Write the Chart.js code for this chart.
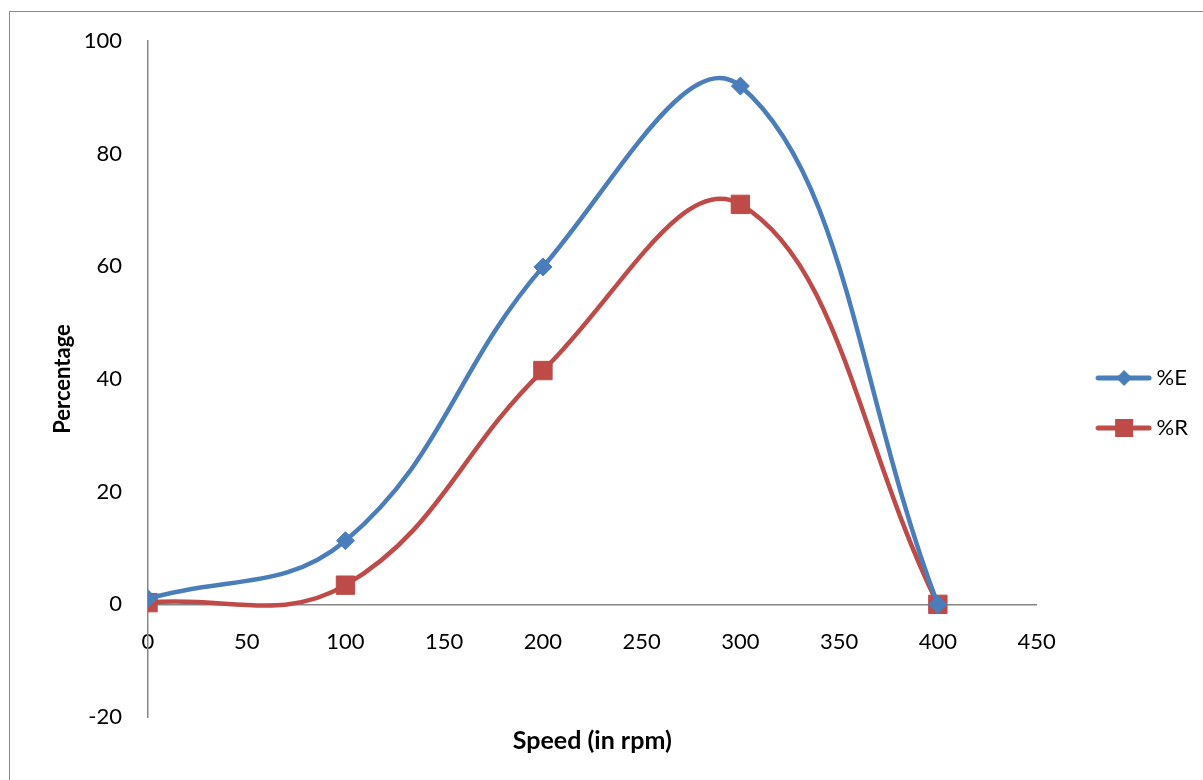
<!DOCTYPE html>
<html>
<head>
<meta charset="utf-8">
<script src="https://cdn.jsdelivr.net/npm/chart.js@4"></script>
<style>
  html, body { margin: 0; padding: 0; background: #fff; }
  #wrap { position: relative; width: 1203px; height: 780px; }
  #frame { position: absolute; left: 9px; top: 11px; width: 1220px; height: 800px; border: 1px solid #8a8a8a; box-sizing: border-box; }
  #chartContainer { position: absolute; left: 0; top: 0; }
</style>
</head>
<body>
<div id="wrap">
  <div id="frame"></div>
  <canvas id="chartContainer" width="1203" height="780"></canvas>
</div>
<script>
// data
const speeds = [0, 100, 200, 300, 400];
const percentE = [1, 11.3, 59.9, 92, 0];
const percentR = [0.3, 3.4, 41.5, 71, 0];
const xTicks = [0, 50, 100, 150, 200, 250, 300, 350, 400, 450];
const yTicks = [-20, 0, 20, 40, 60, 80, 100];

const blue = '#4A7EBB';
const red = '#BE4B48';
const axisGray = '#868686';
const fontName = 'Lato, "Open Sans", sans-serif';

// legend icon: a line with the marker in the middle
function legendIcon(color, shape) {
  const c = document.createElement('canvas');
  c.width = 98;
  c.height = 22;
  const g = c.getContext('2d');
  g.strokeStyle = color;
  g.lineWidth = 5;
  g.lineCap = 'round';
  g.beginPath();
  g.moveTo(42, 11);
  g.lineTo(93, 11);
  g.stroke();
  g.fillStyle = color;
  const cx = 68;
  if (shape === 'diamond') {
    g.beginPath();
    g.moveTo(cx, 3); g.lineTo(cx + 8, 11); g.lineTo(cx, 19); g.lineTo(cx - 8, 11);
    g.closePath();
    g.fill();
  } else {
    g.fillRect(cx - 9, 2, 18, 18);
  }
  return c;
}

function toPoints(xs, ys) {
  return xs.map((x, i) => ({ x: x, y: ys[i] }));
}

// x axis title, centred on the plot area like Excel
const xTitlePlugin = {
  id: 'xTitle',
  afterDraw(chart) {
    const ctx = chart.ctx;
    const area = chart.chartArea;
    ctx.save();
    ctx.font = 'bold 25px ' + fontName;
    ctx.fillStyle = '#000';
    ctx.textAlign = 'center';
    ctx.textBaseline = 'middle';
    ctx.fillText('Speed (in rpm)', (area.left + area.right) / 2, 741);
    ctx.restore();
  }
};

let chartContainer = document.getElementById('chartContainer').getContext('2d');
let chart = new Chart(chartContainer, {
  type: 'line',
  data: {
    datasets: [{
      label: '%E',
      data: toPoints(speeds, percentE),
      borderColor: blue,
      backgroundColor: blue,
      borderWidth: 4.5,
      tension: 0.4,
      pointStyle: 'rectRot',
      pointRadius: 9,
      pointBorderWidth: 1,
      pointBackgroundColor: blue,
      pointBorderColor: blue,
      legendIcon: legendIcon(blue, 'diamond')
    },
    {
      label: '%R',
      data: toPoints(speeds, percentR),
      borderColor: red,
      backgroundColor: red,
      borderWidth: 4.5,
      tension: 0.4,
      pointStyle: 'rect',
      pointRadius: 13,
      pointBorderWidth: 1,
      pointBackgroundColor: red,
      pointBorderColor: red,
      legendIcon: legendIcon(red, 'square')
    }]
  },
  options: {
    responsive: false,
    animation: false,
    layout: { padding: { left: 0, top: 41, bottom: 63, right: 5 } },
    scales: {
      x: {
        type: 'linear',
        position: { y: 0 },
        min: 0,
        max: 450,
        afterBuildTicks(scale) { scale.ticks = xTicks.map(v => ({ value: v })); },
        grid: { display: false, drawTicks: false },
        border: { display: true, color: axisGray, width: 1.5 },
        ticks: { padding: 24, color: '#000', font: { family: fontName, size: 22 }, maxRotation: 0 }
      },
      y: {
        type: 'linear',
        position: 'left',
        min: -20,
        max: 100,
        afterBuildTicks(scale) { scale.ticks = yTicks.map(v => ({ value: v })); },
        afterFit(scale) { scale.width = 148; },
        grid: { display: false, drawTicks: false },
        border: { display: true, color: axisGray, width: 1.5 },
        ticks: { padding: 26, color: '#000', font: { family: fontName, size: 22 } },
        title: {
          display: true,
          text: 'Percentage',
          color: '#000',
          font: { family: fontName, size: 22, weight: 'bold' },
          padding: { top: 50, bottom: 0 }
        }
      }
    },
    plugins: {
      tooltip: { enabled: false },
      legend: {
        position: 'right',
        // empty title only pushes the two items down a little
        title: { display: true, text: '', font: { size: 10 }, padding: 18 },
        labels: {
          usePointStyle: true,
          pointStyleWidth: 81,
          padding: 28,
          color: '#000',
          font: { family: fontName, size: 22 },
          generateLabels(chart) {
            return chart.data.datasets.map((ds, i) => ({
              text: ds.label,
              pointStyle: ds.legendIcon,
              fillStyle: ds.borderColor,
              strokeStyle: ds.borderColor,
              fontColor: '#000',
              lineWidth: 0,
              hidden: false,
              datasetIndex: i
            }));
          }
        }
      }
    }
  },
  plugins: [xTitlePlugin]
});
</script>
</body>
</html>
